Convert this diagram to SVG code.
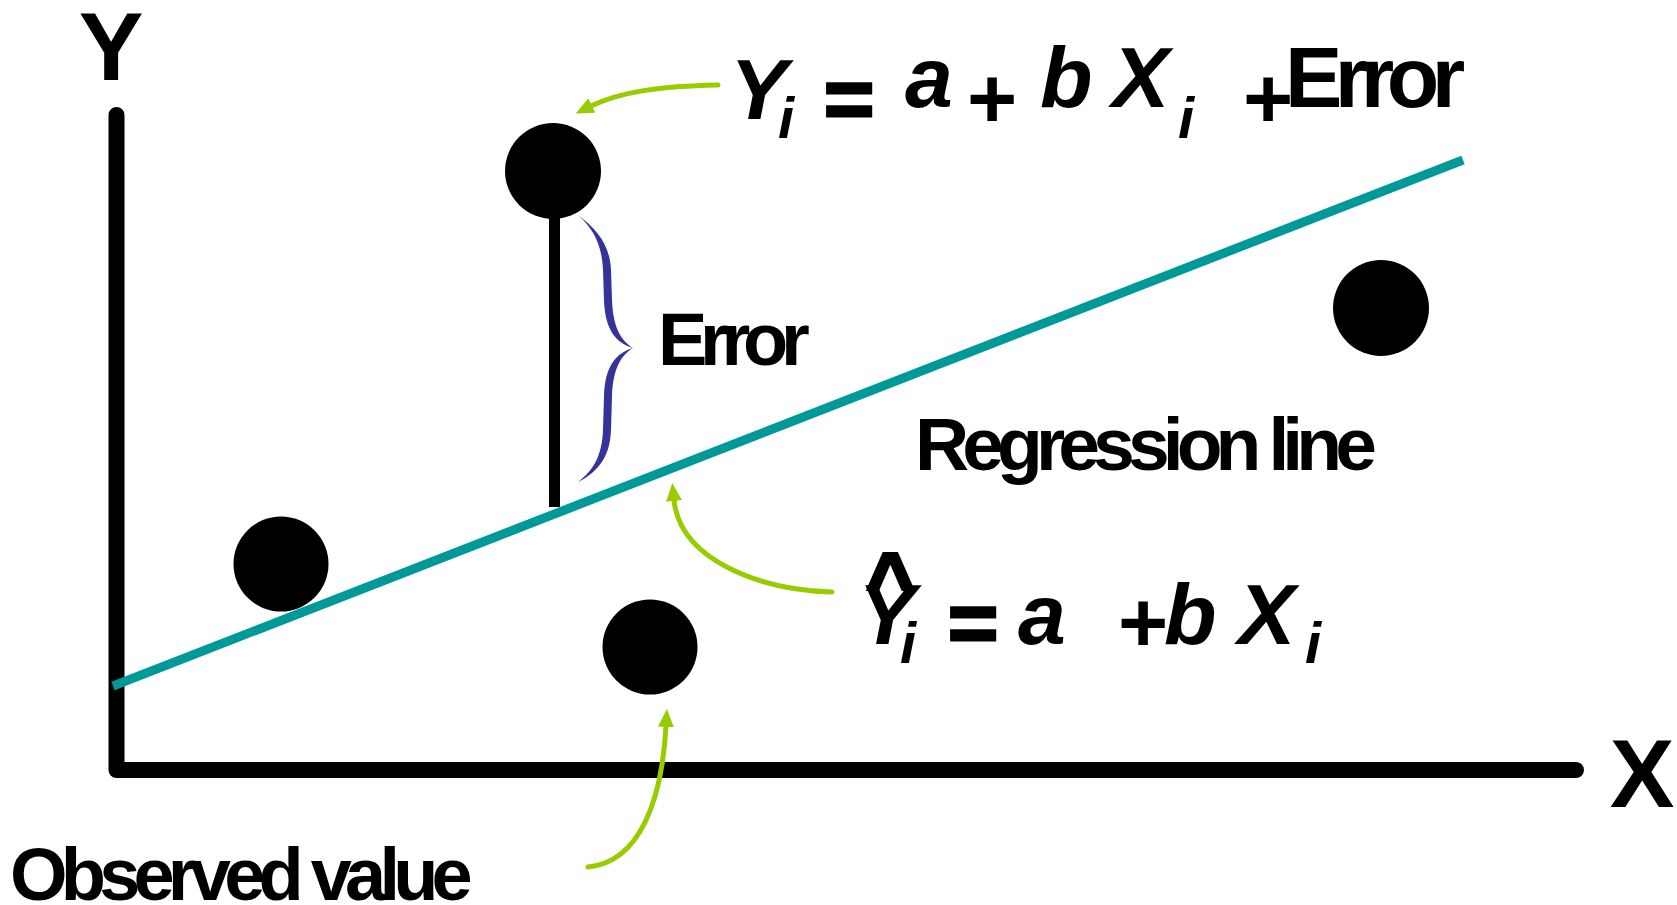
<svg xmlns="http://www.w3.org/2000/svg" width="1677" height="905" viewBox="0 0 1677 905">
  <style>
    .t { font-family: "Liberation Sans", Arial, sans-serif; font-weight: bold; fill: #000; }
    .it { font-style: italic; }
    .op { stroke: #000; stroke-width: 3; }
    .hat { stroke: #000; stroke-width: 4; stroke-linejoin: miter; }
    .dot { fill: #000; }
    .conn { fill: none; stroke: #99cc00; stroke-width: 5; stroke-linecap: round; }
  </style>
  <defs>
    <marker id="ah" viewBox="0 0 20 20" refX="1" refY="10" markerWidth="20" markerHeight="20" markerUnits="userSpaceOnUse" orient="auto">
      <path d="M0,2 L18,10 L0,18 z" fill="#99cc00"/>
    </marker>
  </defs>
  <rect width="1677" height="905" fill="#fff"/>

  <g id="axes">
    <path d="M116.5 115 V770 H1576" fill="none" stroke="#000" stroke-width="16" stroke-linecap="round" stroke-linejoin="round"/>
    <text class="t" x="111" y="80" font-size="97" text-anchor="middle">Y</text>
    <text class="t" x="1642" y="807" font-size="97" text-anchor="middle">X</text>
  </g>

  <g id="regression-line">
    <line x1="113" y1="686" x2="1463" y2="160" stroke="#009999" stroke-width="9"/>
    <text class="t" x="915" y="470" font-size="75" letter-spacing="-6.9">Regression line</text>
  </g>

  <g id="error">
    <line x1="554.5" y1="200" x2="554.5" y2="507" stroke="#000" stroke-width="11"/>
    <path d="M578 215 C598 230 610 246 611 270 L612 300 C613 326 620 340 633 348 C620 356 613 370 612 396 L611 430 C610 455 600 471 578 482 C594 470 602 455 603 430 L604 396 C605 366 616 353 633 348 C616 343 605 330 604 300 L603 270 C602 246 594 229 578 215 Z" fill="#333399"/>
    <text class="t" x="658" y="365" font-size="74" letter-spacing="-7.3">Error</text>
  </g>

  <g id="dot-1"><circle class="dot" cx="553" cy="171" r="48"/></g>
  <g id="dot-2"><circle class="dot" cx="1381" cy="308" r="48"/></g>
  <g id="dot-3"><circle class="dot" cx="281" cy="564" r="47.5"/></g>
  <g id="dot-4"><circle class="dot" cx="650" cy="647" r="47.5"/></g>

  <g id="equation-observed">
    <text class="t it" x="730" y="119" font-size="86">Y</text>
    <text class="t it" x="778" y="138" font-size="58">i</text>
    <text class="t op" x="824" y="128" font-size="86">=</text>
    <text class="t it" x="905" y="107" font-size="86">a</text>
    <text class="t" x="967" y="128" font-size="86">+</text>
    <text class="t it" x="1040" y="107" font-size="86">b</text>
    <text class="t it" x="1112" y="107" font-size="86">X</text>
    <text class="t it" x="1178" y="138" font-size="58">i</text>
    <text class="t" x="1243" y="128" font-size="86">+</text>
    <text class="t" x="1285" y="107" font-size="86" letter-spacing="-7.5">Error</text>
  </g>

  <g id="equation-predicted">
    <text class="t hat" x="867" y="609" font-size="80">^</text>
    <text class="t it" x="858" y="644" font-size="86">Y</text>
    <text class="t it" x="900" y="663" font-size="58">i</text>
    <text class="t op" x="948" y="652" font-size="86">=</text>
    <text class="t it" x="1018" y="644" font-size="86">a</text>
    <text class="t" x="1118" y="652" font-size="86">+</text>
    <text class="t it" x="1164" y="644" font-size="86">b</text>
    <text class="t it" x="1238" y="644" font-size="86">X</text>
    <text class="t it" x="1305" y="663" font-size="58">i</text>
  </g>

  <g id="observed-label">
    <text class="t" x="10" y="900" font-size="74" letter-spacing="-6.8">Observed value</text>
  </g>

  <g id="connectors">
    <path class="conn" d="M718 85 C660 86 620 92 591 106" marker-end="url(#ah)"/>
    <path class="conn" d="M832 592 C760 590 680 560 674 500" marker-end="url(#ah)"/>
    <path class="conn" d="M588 867 C640 862 662 800 666 726" marker-end="url(#ah)"/>
  </g>
</svg>
